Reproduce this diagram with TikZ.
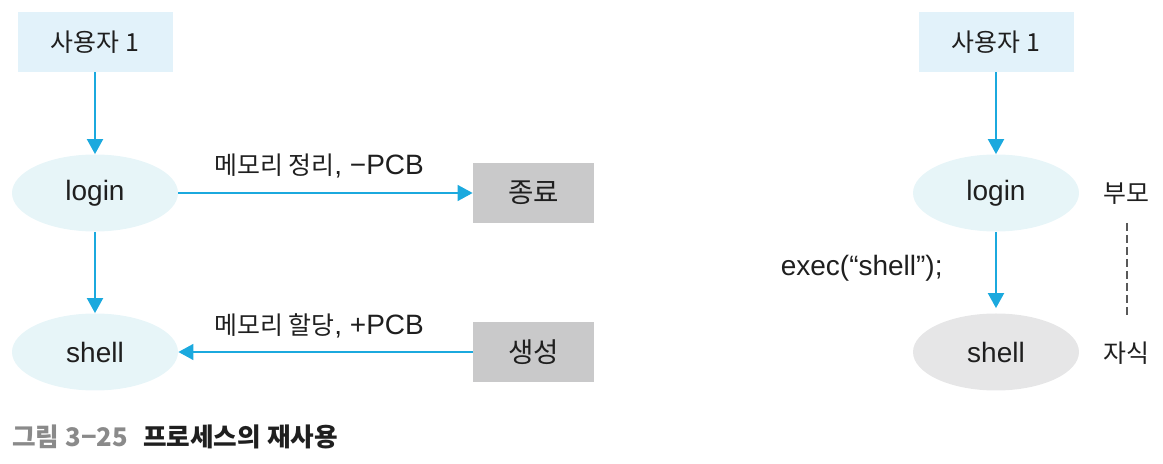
\documentclass[tikz,border=0pt]{standalone}
\usepackage{fontspec}
\setmainfont{Liberation Sans}
\newfontfamily\kor[Scale=0.89]{Noto Sans CJK KR}
\usetikzlibrary{shapes.geometric,arrows.meta}
\definecolor{arrowBlue}{HTML}{1BA9DE}
\definecolor{boxBlue}{HTML}{E2F2FA}
\definecolor{ovalBlue}{HTML}{E7F5F8}
\definecolor{boxGray}{HTML}{C9C9CA}
\definecolor{ovalGray}{HTML}{E6E6E7}
\definecolor{capGray}{HTML}{8A8A8A}
\colorlet{penColor}{black!88}
\newcommand{\nodefont}{\fontsize{14}{16}\selectfont}
\tikzset{>={Triangle[width=8pt,length=7.5pt]}}
\tikzset{
	userbox/.style={fill=boxBlue, minimum width=77.5pt, minimum height=30pt, inner sep=0pt, text=penColor, font=\nodefont\kor},
	proc/.style={ellipse, fill=ovalBlue, minimum width=83pt, minimum height=38.5pt, inner sep=0pt, text=penColor, font=\nodefont},
	statebox/.style={fill=boxGray, minimum width=60.5pt, minimum height=30pt, inner sep=0pt, text=penColor, font=\fontsize{15.5}{17}\selectfont\kor},
	lbl/.style={inner sep=0pt, text=penColor, font=\nodefont},
	flow/.style={->, arrowBlue, line width=1pt},
	flowthin/.style={->, arrowBlue, line width=0.7pt},
}

\begin{document}
\begin{tikzpicture}[x=0.5pt, y=-0.5pt]
		\useasboundingbox (0,0) rectangle (1163,464);
		% left: login ends, shell is created
		\node[userbox] (user1) at (95,42) {사용자 1};
		\node[proc] (login1) at (95,193) {login};
		\node[proc] (shell1) at (95,352) {shell};
		\node[statebox] (stop) at (533.5,193) {종료};
		\node[statebox] (create) at (533.5,352) {생성};
		\node[lbl] (freeLbl) at (319,166) {{\kor 메모리 정리}, −PCB};
		\node[lbl] (allocLbl) at (319,326) {{\kor 메모리 할당}, +PCB};
		\draw[flow] (user1) -- (login1);
		\draw[flow] (login1) -- (shell1);
		\draw[flowthin] (login1.east) -- (stop.west);
		\draw[flowthin] (create.west) -- (shell1.east);
		
		% right: exec
		\node[userbox] (user2) at (996,42) {사용자 1};
		\node[proc] (login2) at (996,193) {login};
		\node[proc, fill=ovalGray] (shell2) at (996,352) {shell};
		\node[lbl, anchor=east] (execLbl) at (943,268) {exec(“shell”);};
		\node[lbl, font=\nodefont\kor] (parent) at (1126,194) {부모};
		\node[lbl, font=\nodefont\kor] (child) at (1126,353) {자식};
		\coordinate (kinTop) at (1127,223);
		\coordinate (kinBot) at (1127,318);
		\draw[flow] (user2) -- (login2);
		\draw[flow, shorten >=2.5pt] (login2) -- (shell2);
		\draw[black!65, line width=0.65pt, dash pattern=on 4pt off 2pt] (kinTop) -- (kinBot);
		
		% caption
		\node[lbl, anchor=west, font=\fontsize{14.4}{16}\selectfont\kor\bfseries] (caption) at (12,437) {\textcolor{capGray}{그림 3−25}\hspace{0.6em}프로세스의 재사용};
		
		\end{tikzpicture}
\end{document}
